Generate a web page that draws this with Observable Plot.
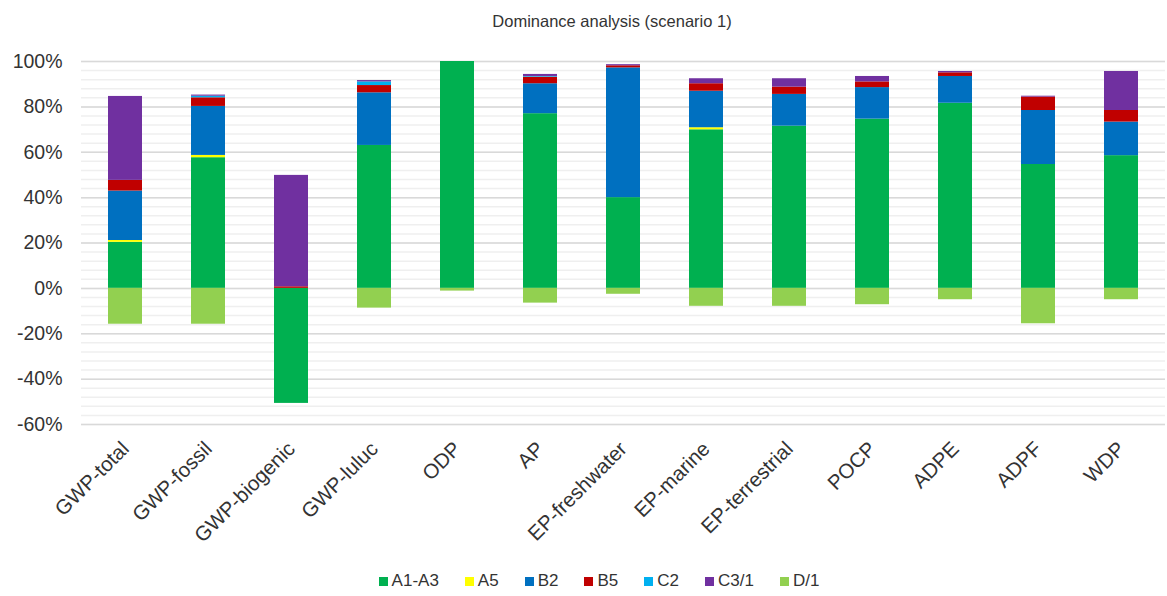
<!DOCTYPE html>
<html><head><meta charset="utf-8">
<script src="https://cdn.jsdelivr.net/npm/d3@7"></script>
<script src="https://cdn.jsdelivr.net/npm/@observablehq/plot@0.6"></script>
<style>
html,body{margin:0;padding:0;background:#fff;}
body{width:1167px;height:596px;position:relative;overflow:hidden;font-family:"Liberation Sans",Arial,sans-serif;color:#333;}
#title{position:absolute;left:0;top:1px;width:1167px;height:40px;line-height:40px;box-sizing:border-box;padding-left:57px;text-align:center;font-size:16.5px;color:#333;}
#chart{position:absolute;left:0;top:40px;}
#legend{position:absolute;left:0;top:571px;width:1167px;box-sizing:border-box;padding-left:31px;display:flex;justify-content:center;align-items:center;font-size:17px;color:#333;}
.item{display:flex;align-items:center;margin:0 13px;}
.sw{width:9px;height:9px;margin-right:4px;}
</style></head><body>
<div id="title">Dominance analysis (scenario 1)</div>
<div id="chart"></div>
<div id="legend"></div>
<script>
const categories = ["GWP-total","GWP-fossil","GWP-biogenic","GWP-luluc","ODP","AP","EP-freshwater","EP-marine","EP-terrestrial","POCP","ADPE","ADPF","WDP"];
const seriesNames = ["A1-A3","A5","B2","B5","C2","C3/1","D/1"];
const a1a3 = [20.3, 57.6, -50.7, 63.0, 100, 77.0, 40.0, 69.9, 71.5, 74.6, 81.6, 54.6, 58.5];
const a5   = [0.8, 1.0, 0, 0, 0, 0, 0, 0.9, 0, 0, 0, 0, 0];
const b2   = [21.8, 21.6, 0, 23.2, 0, 13.2, 57.2, 16.1, 14.0, 13.9, 11.8, 23.8, 14.8];
const b5   = [4.7, 3.8, 0.7, 3.2, 0, 2.9, 0.9, 3.3, 3.2, 2.5, 1.6, 5.9, 5.1];
const c2   = [0, 0.7, 0, 1.6, 0, 0.3, 0, 0, 0, 0, 0, 0, 0];
const c31  = [37.0, 0.5, 49.1, 0.6, 0, 0.9, 0.5, 2.2, 3.7, 2.4, 0.6, 0.4, 17.2];
const d1   = [-15.8, -15.8, 0, -8.7, -1.2, -6.5, -2.6, -7.9, -7.9, -7.2, -5.0, -15.6, -5.0];
const yTicks = [-60, -40, -20, 0, 20, 40, 60, 80, 100];
const palette = ["#00B050","#FFFF00","#0070C0","#C00000","#00B0F0","#7030A0","#92D050"];

const seriesValues = [a1a3, a5, b2, b5, c2, c31, d1];
const rows = categories.flatMap((c, i) => seriesNames.map((s, j) => ({category: c, series: s, value: seriesValues[j][i]})));
const minorTicks = d3.range(-60, 100.001, 4);

const chart = Plot.plot({
  width: 1167,
  height: 520,
  marginTop: 21,
  marginBottom: 136,
  marginLeft: 81,
  marginRight: 2,
  style: {fontFamily: "'Liberation Sans', Arial, sans-serif", fontSize: "19.5px", color: "#333", background: "#fff"},
  x: {domain: categories, paddingInner: 0.59, paddingOuter: 0.295, label: null},
  y: {domain: [-60, 100], label: null},
  color: {domain: seriesNames, range: palette},
  marks: [
    Plot.ruleY(minorTicks, {stroke: "#efefef", strokeWidth: 1.5}),
    Plot.ruleY(yTicks, {stroke: "#d9d9d9", strokeWidth: 1.5}),
    Plot.barY(rows, {x: "category", y: "value", fill: "series", order: seriesNames}),
    Plot.axisY({ticks: yTicks, tickSize: 0, tickPadding: 19, tickFormat: d => `${d}%`, fontSize: 19.5}),
    Plot.axisX({tickRotate: -45, tickSize: 0, tickPadding: 21, dx: 0, fontSize: 20.5})
  ]
});
document.getElementById("chart").appendChild(chart);

const legend = document.getElementById("legend");
seriesNames.forEach((s, i) => {
  const item = document.createElement("div");
  item.className = "item";
  const sw = document.createElement("div");
  sw.className = "sw";
  sw.style.background = palette[i];
  const t = document.createElement("span");
  t.textContent = s;
  item.appendChild(sw);
  item.appendChild(t);
  legend.appendChild(item);
});
</script>
</body></html>
